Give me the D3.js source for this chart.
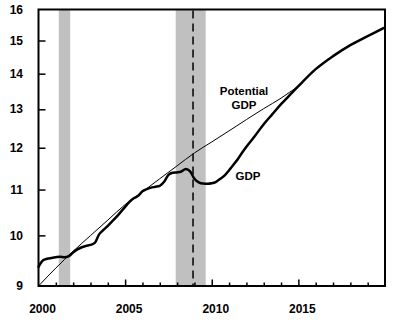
<!DOCTYPE html>
<html>
<head>
<meta charset="utf-8">
<script src="https://cdn.jsdelivr.net/npm/d3@7"></script>
<style>
  html, body { margin: 0; padding: 0; background: #fff; }
  svg { display: block; font-family: "Liberation Sans", Arial, sans-serif; }
</style>
</head>
<body>
<svg id="chart" width="399" height="326"></svg>
<script>
// Real GDP and potential GDP, trillions (log scale)
const gdpYears = [
  2000, 2000.25, 2000.5, 2000.75, 2001, 2001.25, 2001.5, 2001.75,
  2002, 2002.25, 2002.5, 2002.75, 2003, 2003.25, 2003.5, 2003.75,
  2004, 2004.25, 2004.5, 2004.75, 2005, 2005.25, 2005.5, 2005.75,
  2006, 2006.25, 2006.5, 2006.75, 2007, 2007.25, 2007.5, 2007.75,
  2008, 2008.25, 2008.5, 2008.75, 2009, 2009.25, 2009.5, 2009.75,
  2010, 2010.25, 2010.5, 2010.75, 2011, 2011.25, 2011.5, 2011.75,
  2012, 2012.5, 2013, 2013.5, 2014, 2014.5, 2015,
  2016, 2017, 2018, 2019, 2019.9
];
const gdpValues = [
  9.364, 9.491, 9.525, 9.541, 9.555, 9.565, 9.555, 9.577,
  9.651, 9.712, 9.756, 9.783, 9.803, 9.844, 10.020, 10.114,
  10.199, 10.295, 10.392, 10.501, 10.611, 10.722, 10.801, 10.857,
  10.960, 11.012, 11.045, 11.063, 11.086, 11.179, 11.343, 11.391,
  11.400, 11.422, 11.479, 11.426, 11.249, 11.167, 11.137, 11.132,
  11.144, 11.179, 11.249, 11.331, 11.450, 11.582, 11.716, 11.876,
  12.025, 12.304, 12.603, 12.868, 13.139, 13.388, 13.641,
  14.133, 14.521, 14.858, 15.140, 15.391
];

const potYears = [
  2000, 2001, 2002, 2003, 2004, 2005, 2006, 2007, 2008, 2009,
  2010, 2011, 2012, 2013, 2014, 2014.5, 2015, 2016, 2017, 2018, 2019, 2019.9
];
const potValues = [
  9.000, 9.342, 9.675, 9.995, 10.323, 10.662, 10.950, 11.251, 11.558, 11.871,
  12.146, 12.430, 12.724, 13.019, 13.304, 13.472, 13.641, 14.133, 14.521, 14.858, 15.140, 15.391
];

// Recessions (shaded) and the start of the projection (dashed)
const recessionStart = [2001.17, 2007.92];
const recessionEnd = [2001.83, 2009.65];
const projectionStart = 2008.92;

const yTicks = [9, 10, 11, 12, 13, 14, 15, 16];
const xMajorTicks = [2000, 2005, 2010, 2015];
const xMinorTicks = d3.range(2001, 2020).filter(v => v % 5 !== 0);

const svg = d3.select("#chart");
const plotLeft = 38.5, plotRight = 385, plotTop = 9.5, plotBottom = 286;

const x = d3.scaleLinear().domain([2000, 2020]).range([plotLeft, plotRight]);
const y = d3.scaleLog().domain([9, 16]).range([plotBottom, plotTop]);

// recession shading
svg.append("g").selectAll("rect")
  .data(recessionStart.map((s, i) => [s, recessionEnd[i]]))
  .join("rect")
  .attr("x", d => x(d[0]))
  .attr("width", d => x(d[1]) - x(d[0]))
  .attr("y", plotTop)
  .attr("height", plotBottom - plotTop)
  .attr("fill", "#c0c0c0");

// projection marker
svg.append("line")
  .attr("x1", x(projectionStart)).attr("x2", x(projectionStart))
  .attr("y1", plotTop + 1).attr("y2", plotBottom)
  .attr("stroke", "#000").attr("stroke-width", 1.5)
  .attr("stroke-dasharray", "8,5");

const line = d3.line()
  .x(d => x(d[0]))
  .y(d => y(d[1]))
  .curve(d3.curveMonotoneX);

svg.append("path")
  .datum(potYears.map((t, i) => [t, potValues[i]]))
  .attr("d", line)
  .attr("fill", "none")
  .attr("stroke", "#000")
  .attr("stroke-width", 1);

svg.append("path")
  .datum(gdpYears.map((t, i) => [t, gdpValues[i]]))
  .attr("d", line)
  .attr("fill", "none")
  .attr("stroke", "#000")
  .attr("stroke-width", 2.5)
  .attr("stroke-linejoin", "round")
  .attr("stroke-linecap", "round");

// y axis: ticks point inward
const yAxis = d3.axisLeft(y)
  .tickValues(yTicks.filter(v => v !== 9 && v !== 16))
  .tickSize(-7)
  .tickFormat("");
svg.append("g").attr("transform", `translate(${plotLeft},0)`).call(yAxis)
  .call(g => g.select(".domain").remove())
  .call(g => g.selectAll(".tick line").attr("stroke", "#000").attr("stroke-width", 1.5));

svg.append("g").selectAll("text")
  .data(yTicks)
  .join("text")
  .attr("x", 23)
  .attr("y", d => y(d))
  .attr("dy", "0.35em")
  .attr("text-anchor", "end")
  .attr("font-size", 12)
  .attr("font-weight", "bold")
  .text(d => d);

// x axis: minor and major ticks point inward
const xMinor = d3.axisBottom(x).tickValues(xMinorTicks)
  .tickSize(-3.5).tickFormat("");
const xMajor = d3.axisBottom(x).tickValues(xMajorTicks.filter(v => v !== 2000))
  .tickSize(-6.5).tickFormat("");
[xMinor, xMajor].forEach(ax => {
  svg.append("g").attr("transform", `translate(0,${plotBottom})`).call(ax)
    .call(g => g.select(".domain").remove())
    .call(g => g.selectAll(".tick line").attr("stroke", "#000").attr("stroke-width", 1.5));
});

svg.append("g").selectAll("text")
  .data(xMajorTicks)
  .join("text")
  .attr("x", d => x(d) + 4)
  .attr("y", 313)
  .attr("text-anchor", "middle")
  .attr("font-size", 12)
  .attr("font-weight", "bold")
  .text(d => d);

// frame
svg.append("rect")
  .attr("x", plotLeft).attr("y", plotTop)
  .attr("width", plotRight - plotLeft).attr("height", plotBottom - plotTop)
  .attr("fill", "none").attr("stroke", "#000").attr("stroke-width", 2);

// series labels
const labels = svg.append("g")
  .attr("font-size", 11.5).attr("font-weight", "bold").attr("text-anchor", "middle");
labels.append("text").attr("x", 244).attr("y", 95).text("Potential");
labels.append("text").attr("x", 244).attr("y", 109).text("GDP");
labels.append("text").attr("x", 248).attr("y", 179.5).text("GDP");
</script>
</body>
</html>
